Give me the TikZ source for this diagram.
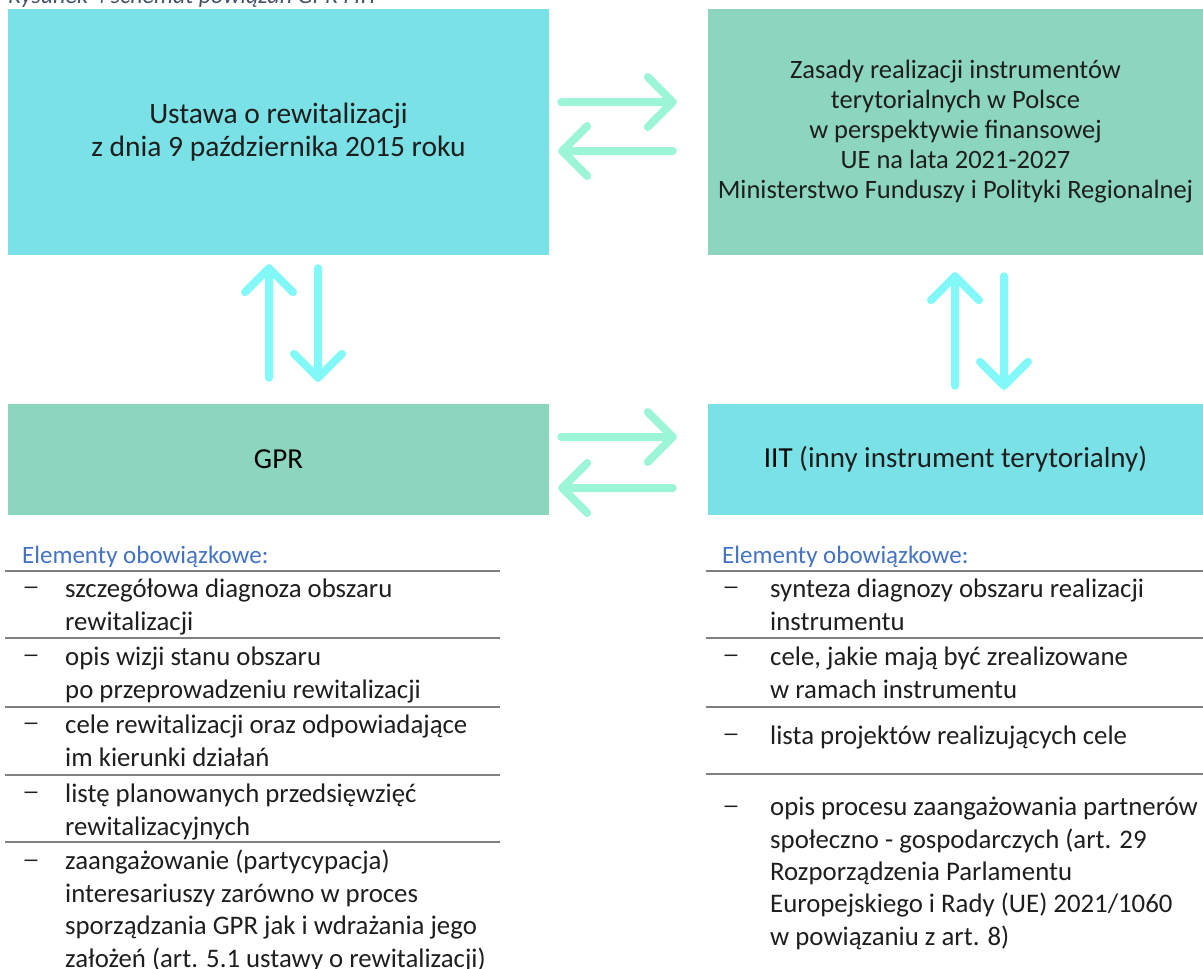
\documentclass[tikz,border=0pt]{standalone}
\usepackage{fontspec}
\usepackage{graphicx}
\setmainfont{Carlito}
\usetikzlibrary{calc}
\definecolor{cyanbox}{HTML}{7AE1E6}
\definecolor{greenbox}{HTML}{8CD6BF}
\definecolor{harrowc}{HTML}{9CF5D6}
\definecolor{varrowc}{HTML}{82F8F8}
\definecolor{headblue}{HTML}{4472C4}
\definecolor{rulegray}{HTML}{808080}
\definecolor{capgray}{HTML}{44546A}
\definecolor{lighttext}{HTML}{1E1E1E}
\begin{document}
\begin{tikzpicture}[x=1pt,y=-1pt,
  box/.style={draw=none, inner sep=0pt, align=center, text=lighttext},
  harr/.style={draw=harrowc, line width=8pt, line cap=round, line join=round},
  varr/.style={draw=varrowc, line width=8pt, line cap=round, line join=round},
  listrule/.style={draw=rulegray, line width=1.6pt},
  hdr/.style={anchor=base west, inner sep=0pt, text=headblue, font=\fontsize{25}{33}\selectfont},
  item/.style={anchor=base west, inner sep=0pt, align=left, text=lighttext, font=\fontsize{26.8}{32.8}\selectfont},
  dashc/.style={anchor=center, inner sep=0pt, text=lighttext, font=\fontsize{24}{33}\selectfont},
]
\useasboundingbox (0,0) rectangle (1203,969);
\clip (0,0) rectangle (1203,969);

% caption (cut off at the top)
\node[anchor=base west, inner sep=0pt, text=capgray, font=\fontsize{24}{28}\selectfont\itshape] (cap) at (8,3) {Rysunek 4 schemat powiązań GPR i IIT};

% boxes
\node[box, fill=cyanbox, minimum width=541pt, minimum height=246pt, font=\fontsize{29.5}{33}\selectfont] (TL) at (278.5,132)
  {Ustawa o rewitalizacji\\z dnia 9 października 2015 roku};
\node[box, fill=greenbox, minimum width=495pt, minimum height=246pt, font=\fontsize{26.5}{30}\selectfont] (TR) at (955.5,132)
  {Zasady realizacji instrumentów\\terytorialnych w Polsce\\w perspektywie finansowej\\UE na lata 2021-2027\\Ministerstwo Funduszy i Polityki Regionalnej};
\node[box, fill=greenbox, minimum width=541pt, minimum height=111pt, text=black, font=\fontsize{29}{33}\selectfont] (BL) at (278.5,459.5) {GPR};
\node[box, fill=cyanbox, minimum width=495pt, minimum height=111pt, font=\fontsize{29}{33}\selectfont] (BR) at (955.5,459.5)
  {\textcolor{black}{IIT} (inny instrument terytorialny)};

% horizontal arrows, top
\coordinate (h1s) at ($(TL.east)+(12,-30)$);
\coordinate (h1e) at ($(TR.west)+(-35,-30)$);
\draw[harr] (h1s) -- (h1e) -- ++(-25,-25) (h1e) -- ++(-25,25);
\coordinate (h2s) at ($(TR.west)+(-35,19)$);
\coordinate (h2e) at ($(TL.east)+(13,19)$);
\draw[harr] (h2s) -- (h2e) -- ++(25,-25) (h2e) -- ++(25,25);

% horizontal arrows, bottom
\coordinate (h3s) at ($(BL.east)+(12,-22.5)$);
\coordinate (h3e) at ($(BR.west)+(-35,-22.5)$);
\draw[harr] (h3s) -- (h3e) -- ++(-25,-25) (h3e) -- ++(-25,25);
\coordinate (h4s) at ($(BR.west)+(-35,28.5)$);
\coordinate (h4e) at ($(BL.east)+(13,28.5)$);
\draw[harr] (h4s) -- (h4e) -- ++(25,-25) (h4e) -- ++(25,25);

% vertical arrows, left
\coordinate (v1s) at ($(BL.north)+(-9.5,-26)$);
\coordinate (v1e) at ($(TL.south)+(-9.5,13)$);
\draw[varr] (v1s) -- (v1e) -- ++(-24,24) (v1e) -- ++(24,24);
\coordinate (v2s) at ($(TL.south)+(39.5,13)$);
\coordinate (v2e) at ($(BL.north)+(39.5,-26)$);
\draw[varr] (v2s) -- (v2e) -- ++(-24,-24) (v2e) -- ++(24,-24);

% vertical arrows, right
\coordinate (v3s) at ($(BR.north)+(-0.5,-18)$);
\coordinate (v3e) at ($(TR.south)+(-0.5,21)$);
\draw[varr] (v3s) -- (v3e) -- ++(-24,24) (v3e) -- ++(24,24);
\coordinate (v4s) at ($(TR.south)+(48.5,21)$);
\coordinate (v4e) at ($(BR.north)+(48.5,-18)$);
\draw[varr] (v4s) -- (v4e) -- ++(-24,-24) (v4e) -- ++(24,-24);

% left list (node base = baseline of last line)
\node[hdr] (lh) at (22,563) {Elementy obowiązkowe:};
\foreach \y in {571,638,707,775,842} \draw[listrule] (5,\y) -- (500,\y);
\foreach \y/\n in {597/1,665/2,733/3,802/4,870/5} \node[dashc] (ld\n) at (31,\y-6) {\scalebox{1.5}[1]{–}};
\node[item] (l1) at (65,630) {szczegółowa diagnoza obszaru\\rewitalizacji};
\node[item] (l2) at (65,698) {opis wizji stanu obszaru\\po przeprowadzeniu rewitalizacji};
\node[item] (l3) at (65,766) {cele rewitalizacji oraz odpowiadające\\im kierunki działań};
\node[item] (l4) at (65,835) {listę planowanych przedsięwzięć\\rewitalizacyjnych};
\node[item, font=\fontsize{26.8}{32.4}\selectfont] (l5) at (65,967) {zaangażowanie (partycypacja)\\interesariuszy zarówno w proces\\sporządzania GPR jak i wdrażania jego\\założeń (art. 5.1 ustawy o rewitalizacji)};

% right list
\node[hdr] (rh) at (722,563) {Elementy obowiązkowe:};
\foreach \y in {571,638,707,774} \draw[listrule] (706,\y) -- (1203,\y);
\foreach \y/\n in {597/1,665/2,744/3,816/4} \node[dashc] (rd\n) at (731,\y-6) {\scalebox{1.5}[1]{–}};
\node[item] (r1) at (770,630) {synteza diagnozy obszaru realizacji\\instrumentu};
\node[item] (r2) at (770,698) {cele, jakie mają być zrealizowane\\w ramach instrumentu};
\node[item] (r3) at (770,744) {lista projektów realizujących cele};
\node[item, font=\fontsize{26.8}{32.3}\selectfont] (r4) at (770,945) {opis procesu zaangażowania partnerów\\społeczno - gospodarczych (art. 29\\Rozporządzenia Parlamentu\\Europejskiego i Rady (UE) 2021/1060\\w powiązaniu z art. 8)};
\end{tikzpicture}
\end{document}
